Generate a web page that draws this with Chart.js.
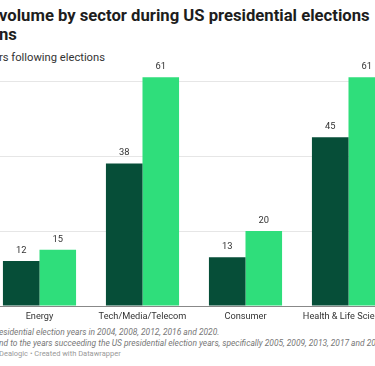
<!DOCTYPE html>
<html>
<head>
<meta charset="utf-8">
<script src="https://cdn.jsdelivr.net/npm/chart.js@4/dist/chart.umd.min.js"></script>
<style>
  html, body { margin: 0; padding: 0; background: #fff; }
  body { width: 375px; height: 366px; overflow: hidden; position: relative; font-family: Roboto, sans-serif; }
  .txt { position: absolute; white-space: nowrap; line-height: 1; left: -1px; }
  #t1 { top: 8px; font-size: 17px; font-weight: 700; color: #1d1d1d; }
  #t2 { top: 27px; font-size: 17px; font-weight: 700; color: #1d1d1d; }
  #leg { top: 51.5px; font-size: 11px; color: #333; }
  .note { font-size: 8.5px; color: #777; font-style: italic; }
  #n1 { top: 327.5px; }
  #n2 { top: 338.5px; }
  #src { top: 350px; font-size: 8.5px; color: #999; }
  #wrap { position: absolute; left: -12px; top: 55.5px; width: 412px; height: 270px; }
</style>
</head>
<body>
<div class="txt" id="t1">volume by sector during US presidential elections</div>
<div class="txt" id="t2">ns</div>
<div class="txt" id="leg">rs following elections</div>
<div id="wrap"><canvas id="chart"></canvas></div>
<div class="txt note" id="n1">esidential election years in 2004, 2008, 2012, 2016 and 2020.</div>
<div class="txt note" id="n2">nd to the years succeeding the US presidential election years, specifically 2005, 2009, 2013, 2017 and 2021.</div>
<div class="txt" id="src">Dealogic • Created with Datawrapper</div>
<script>
// Categories and values
const sectors = ['Energy', 'Tech/Media/Telecom', 'Consumer', 'Health & Life Sciences'];
const electionYears = [12, 38, 13, 45];
const followingYears = [15, 61, 20, 61];
const gridTicks = [0, 20, 40, 60];

// pick a font size so a text gets the width seen in the reference
const measureCtx = document.createElement('canvas').getContext('2d');
const fitSize = (text, style, target) => {
    measureCtx.font = style + ' 10px Roboto';
    return 10 * target / measureCtx.measureText(text).width;
};
const setSize = (id, style, target, others) => {
    const el = document.getElementById(id);
    const size = fitSize(el.textContent, style, target);
    [id].concat(others || []).forEach(k => { document.getElementById(k).style.fontSize = size + 'px'; });
};
setSize('t1', 'bold', 371, ['t2']);
setSize('leg', 'normal', 106);
setSize('n1', 'italic', 221, ['n2']);
setSize('src', 'normal', 122);
const tickSize = fitSize('Tech/Media/Telecom', 'normal', 88);
const valueSize = fitSize('45', 'normal', 10.5);

// draw value labels above each bar
const valueLabels = {
    id: 'valueLabels',
    afterDatasetsDraw(chart) {
        const ctx = chart.ctx;
        ctx.save();
        ctx.font = valueSize + 'px Roboto, sans-serif';
        ctx.fillStyle = '#333';
        ctx.textAlign = 'center';
        ctx.textBaseline = 'middle';
        chart.data.datasets.forEach((ds, i) => {
            chart.getDatasetMeta(i).data.forEach((bar, j) => {
                ctx.fillText(ds.data[j], bar.x, bar.y - 10.5);
            });
        });
        ctx.restore();
    }
};

new Chart(document.getElementById('chart'), {
    type: 'bar',
    data: {
        labels: sectors,
        datasets: [{
            label: 'Election years',
            data: electionYears,
            backgroundColor: '#064e38',
            categoryPercentage: 0.71,
            barPercentage: 1.0
        }, {
            label: 'Years following elections',
            data: followingYears,
            backgroundColor: '#2fde7b',
            categoryPercentage: 0.71,
            barPercentage: 1.0
        }]
    },
    options: {
        responsive: true,
        maintainAspectRatio: false,
        animation: false,
        layout: { padding: { top: 10 } },
        plugins: {
            legend: { display: false },
            tooltip: { enabled: false }
        },
        scales: {
            x: {
                grid: { display: false, drawTicks: false },
                border: { color: '#888', width: 1 },
                afterFit: (axis) => { axis.height = 20; },
                ticks: { color: '#333', font: { family: 'Roboto', size: tickSize }, padding: 5, maxRotation: 0, autoSkip: false }
            },
            y: {
                min: 0,
                max: 64,
                afterBuildTicks: (axis) => { axis.ticks = gridTicks.map(v => ({ value: v })); },
                grid: { color: '#e6e6e6', drawTicks: false },
                border: { display: false },
                ticks: { display: false }
            }
        }
    },
    plugins: [valueLabels]
});
</script>
</body>
</html>
